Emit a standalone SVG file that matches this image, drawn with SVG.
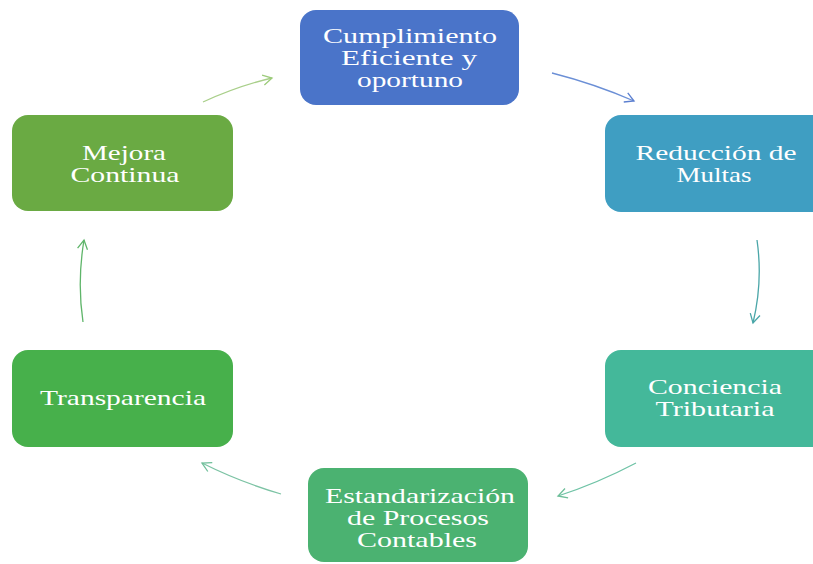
<svg xmlns="http://www.w3.org/2000/svg" width="813" height="564" viewBox="0 0 813 564">
<style>
.box{stroke:none}
.t{font-family:"Liberation Serif","Times New Roman",serif;font-size:21px;fill:#ffffff;text-anchor:middle}
.c{fill:none;stroke-width:1.3}
</style>
<defs>
<marker id="ab" viewBox="0 0 12 12" refX="10" refY="6" markerWidth="12" markerHeight="12" markerUnits="userSpaceOnUse" orient="auto"><polyline points="1,1 10,6 1,11" fill="none" stroke="#5b7fd0" stroke-width="1.3"/></marker>
<marker id="at" viewBox="0 0 12 12" refX="10" refY="6" markerWidth="12" markerHeight="12" markerUnits="userSpaceOnUse" orient="auto"><polyline points="1,1 10,6 1,11" fill="none" stroke="#4aa6a8" stroke-width="1.3"/></marker>
<marker id="ag" viewBox="0 0 12 12" refX="10" refY="6" markerWidth="12" markerHeight="12" markerUnits="userSpaceOnUse" orient="auto"><polyline points="1,1 10,6 1,11" fill="none" stroke="#6fbf9a" stroke-width="1.3"/></marker>
<marker id="al" viewBox="0 0 12 12" refX="10" refY="6" markerWidth="12" markerHeight="12" markerUnits="userSpaceOnUse" orient="auto"><polyline points="1,1 10,6 1,11" fill="none" stroke="#5fb56a" stroke-width="1.3"/></marker>
<marker id="am" viewBox="0 0 12 12" refX="10" refY="6" markerWidth="12" markerHeight="12" markerUnits="userSpaceOnUse" orient="auto"><polyline points="1,1 10,6 1,11" fill="none" stroke="#9ccb7a" stroke-width="1.3"/></marker>
</defs>
<rect width="813" height="564" fill="#ffffff"/>
<g id="connectors">
<path class="c" d="M203,102 Q238,86 272,78" stroke="#a9cf8a" marker-end="url(#am)"/>
<path class="c" d="M552,73 Q595,84 634,101" stroke="#6b8fd6" marker-end="url(#ab)"/>
<path class="c" d="M757,240 Q763,282 753,323" stroke="#4aa6a8" marker-end="url(#at)"/>
<path class="c" d="M636,463 Q598,483 558,496" stroke="#6fc3a6" marker-end="url(#ag)"/>
<path class="c" d="M281,494 Q240,482 202,463" stroke="#7cc3a4" marker-end="url(#ag)"/>
<path class="c" d="M83,322 Q77,282 84,240" stroke="#5fb56a" marker-end="url(#al)"/>
</g>
<g id="n1">
<rect class="box" x="300" y="10" width="219" height="95" rx="16" fill="#4a74c9"/>
<text class="t" x="410" y="43" textLength="174" lengthAdjust="spacingAndGlyphs">Cumplimiento</text>
<text class="t" x="409" y="65" textLength="136" lengthAdjust="spacingAndGlyphs">Eficiente y</text>
<text class="t" x="410" y="87" textLength="106" lengthAdjust="spacingAndGlyphs">oportuno</text>
</g>
<g id="n2">
<rect class="box" x="605" y="115" width="222" height="97" rx="16" fill="#3f9ec2"/>
<text class="t" x="716" y="160" textLength="161" lengthAdjust="spacingAndGlyphs">Reducción de</text>
<text class="t" x="714" y="182" textLength="75" lengthAdjust="spacingAndGlyphs">Multas</text>
</g>
<g id="n3">
<rect class="box" x="605" y="350" width="222" height="97" rx="16" fill="#44b89a"/>
<text class="t" x="715" y="394" textLength="134" lengthAdjust="spacingAndGlyphs">Conciencia</text>
<text class="t" x="715" y="416" textLength="119" lengthAdjust="spacingAndGlyphs">Tributaria</text>
</g>
<g id="n4">
<rect class="box" x="308" y="468" width="220" height="94" rx="16" fill="#4bb271"/>
<text class="t" x="420" y="503" textLength="190" lengthAdjust="spacingAndGlyphs">Estandarización</text>
<text class="t" x="418" y="525" textLength="142" lengthAdjust="spacingAndGlyphs">de Procesos</text>
<text class="t" x="417" y="547" textLength="120" lengthAdjust="spacingAndGlyphs">Contables</text>
</g>
<g id="n5">
<rect class="box" x="12" y="350" width="221" height="97" rx="16" fill="#47b04b"/>
<text class="t" x="123" y="405" textLength="166" lengthAdjust="spacingAndGlyphs">Transparencia</text>
</g>
<g id="n6">
<rect class="box" x="12" y="115" width="221" height="96" rx="16" fill="#6aaa43"/>
<text class="t" x="124" y="160" textLength="84" lengthAdjust="spacingAndGlyphs">Mejora</text>
<text class="t" x="125" y="182" textLength="109" lengthAdjust="spacingAndGlyphs">Continua</text>
</g>
</svg>
